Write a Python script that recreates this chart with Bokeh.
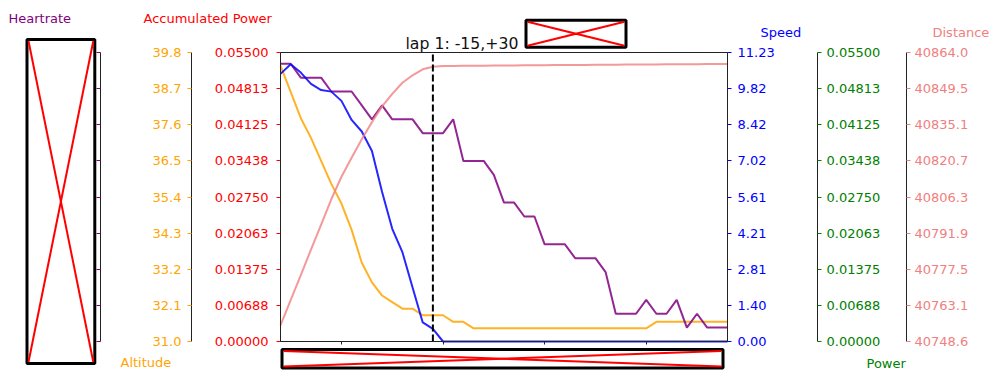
import numpy as np
from bokeh.plotting import figure
from bokeh.models import (Range1d, LinearAxis, FixedTicker, CustomJSTickFormatter,
                          Label, BoxAnnotation, Arrow)
from bokeh.embed import file_html
from bokeh.resources import INLINE

# ---------------- data ----------------
TIME = [0, 1, 2, 3, 4, 5, 6, 7, 8, 9, 10, 11, 12, 13, 14, 15, 16, 17, 18, 19, 20, 21, 22,
        23, 24, 25, 26, 27, 28, 29, 30, 31, 32, 33, 34, 35, 36, 37, 38, 39, 40, 41, 42, 43, 44]
LAP_TIME = 15
LAP_TITLE = "lap 1: -15,+30"

HEARTRATE = [160, 160, 159, 159, 159, 158, 158, 158, 157, 156, 157, 156, 156, 156, 155, 155,
             155, 156, 153, 153, 153, 152, 150, 150, 149, 149, 147, 147, 147, 146, 146, 146,
             145, 142, 142, 142, 143, 142, 142, 143, 141, 142, 141, 141, 141]
SPEED = [10.40, 10.77, 10.45, 10.01, 9.77, 9.71, 9.35, 8.61, 8.16, 7.40, 5.81, 4.38, 3.47,
         2.10, 0.74, 0.49, 0.0, 0.0, 0.0, 0.0, 0.0, 0.0, 0.0, 0.0, 0.0, 0.0, 0.0, 0.0, 0.0,
         0.0, 0.0, 0.0, 0.0, 0.0, 0.0, 0.0, 0.0, 0.0, 0.0, 0.0, 0.0, 0.0, 0.0, 0.0, 0.0]
ALTITUDE = [39.4, 38.6, 37.8, 37.2, 36.5, 35.8, 35.2, 34.4, 33.4, 32.8, 32.4, 32.2, 32.0, 32.0,
            31.8, 31.8, 31.8, 31.6, 31.6, 31.4, 31.4, 31.4, 31.4, 31.4, 31.4, 31.4, 31.4, 31.4,
            31.4, 31.4, 31.4, 31.4, 31.4, 31.4, 31.4, 31.4, 31.4, 31.6, 31.6, 31.6, 31.6, 31.6,
            31.6, 31.6, 31.6]
DISTANCE = [40755.0, 40765.1, 40775.1, 40785.3, 40795.3, 40805.4, 40814.4, 40822.0, 40829.4,
            40836.2, 40842.5, 40847.5, 40851.9, 40854.9, 40857.3, 40858.3, 40858.6, 40858.6,
            40858.7, 40858.7, 40858.7, 40858.8, 40858.8, 40858.8, 40858.9, 40858.9, 40858.9,
            40859.0, 40859.0, 40859.0, 40859.0, 40859.1, 40859.1, 40859.1, 40859.2, 40859.2,
            40859.2, 40859.2, 40859.3, 40859.3, 40859.3, 40859.3, 40859.4, 40859.4, 40859.4]

X_TICKS = [6, 16, 26, 36]
TIME_RANGE = (0, 44)
HR_RANGE = (140.0, 160.81)
ALT_RANGE = (31.0, 39.8)
ACC_RANGE = (0.0, 0.055)
SPEED_RANGE = (0.0, 11.23)
POWER_RANGE = (0.0, 0.055)
DIST_RANGE = (40748.6, 40864.0)

ALT_TICKS = ["31.0", "32.1", "33.2", "34.3", "35.4", "36.5", "37.6", "38.7", "39.8"]
ACC_TICKS = ["0.00000", "0.00688", "0.01375", "0.02063", "0.02750", "0.03438", "0.04125",
             "0.04813", "0.05500"]
SPEED_TICKS = ["0.00", "1.40", "2.81", "4.21", "5.61", "7.02", "8.42", "9.82", "11.23"]
POWER_TICKS = ["0.00000", "0.00688", "0.01375", "0.02063", "0.02750", "0.03438", "0.04125",
               "0.04813", "0.05500"]
DIST_TICKS = ["40748.6", "40763.1", "40777.5", "40791.9", "40806.3", "40820.7", "40835.1",
              "40849.5", "40864.0"]
HR_TICKS = ["", "", "", "", "", "", "", "", ""]

# ---------------- layout / styling ----------------
W, H = 990, 370
PLOT_L, PLOT_R, PLOT_T, PLOT_B = 280, 727, 52, 341   # main plot area, canvas px
FONT = "DejaVu Sans"
FS = "13px"
C_HR = "purple"
C_ALT = "orange"
C_ACC = "red"
C_SPEED = "blue"
C_POW = "green"
C_DIST = "lightcoral"
AXC = "#222222"

XK = (PLOT_R - PLOT_L) / (TIME_RANGE[1] - TIME_RANGE[0])   # px per second


def x_at(px):
    """canvas px -> time units (for axis placement)"""
    return TIME_RANGE[0] + (px - PLOT_L) / XK


def y_range_for(lohi):
    lo, hi = lohi
    per_px = (hi - lo) / (PLOT_B - PLOT_T)
    return Range1d(lo - (H - PLOT_B) * per_px, hi + PLOT_T * per_px)


def sy(py):
    return H - py


p = figure(width=W, height=H, output_backend="svg", toolbar_location=None,
           x_range=Range1d(x_at(0), x_at(W)), y_range=y_range_for(SPEED_RANGE),
           x_axis_location=None, y_axis_location=None,
           min_border_left=0, min_border_right=0, min_border_top=0, min_border_bottom=0)
p.extra_y_ranges = {
    "hr": y_range_for(HR_RANGE), "alt": y_range_for(ALT_RANGE), "acc": y_range_for(ACC_RANGE),
    "pow": y_range_for(POWER_RANGE), "dist": y_range_for(DIST_RANGE),
}
p.grid.visible = False
p.outline_line_color = None
p.background_fill_color = "white"
p.border_fill_color = "white"


def value_axis(rng, lohi, labels, color, standoff, at_px, side):
    ticks = list(np.linspace(lohi[0], lohi[1], len(labels)))
    ax = LinearAxis(
        y_range_name=rng, fixed_location=x_at(at_px), bounds=lohi,
        ticker=FixedTicker(ticks=ticks, minor_ticks=[]),
        formatter=CustomJSTickFormatter(args=dict(labels=labels), code="return labels[index];"),
        major_tick_out=4, major_tick_in=0, minor_tick_out=0, minor_tick_in=0,
        major_tick_line_color=color, axis_line_color=AXC, axis_line_width=1,
        major_label_text_color=color, major_label_text_font=FONT,
        major_label_text_font_size=FS, major_label_standoff=standoff)
    p.add_layout(ax, side)


value_axis("acc", ACC_RANGE, ACC_TICKS, C_ACC, 8, PLOT_L, "left")
value_axis("alt", ALT_RANGE, ALT_TICKS, C_ALT, 6, 191, "left")
value_axis("hr", HR_RANGE, HR_TICKS, C_HR, 0, 100, "left")
value_axis("default", SPEED_RANGE, SPEED_TICKS, C_SPEED, 6, PLOT_R, "right")
value_axis("pow", POWER_RANGE, POWER_TICKS, C_POW, 5, 817, "right")
value_axis("dist", DIST_RANGE, DIST_TICKS, C_DIST, 4, 906, "right")

# bottom time axis: ticks only
p.add_layout(LinearAxis(
    fixed_location=SPEED_RANGE[0], bounds=TIME_RANGE,
    ticker=FixedTicker(ticks=X_TICKS, minor_ticks=[]),
    formatter=CustomJSTickFormatter(code="return '';"),
    major_tick_out=3, major_tick_in=0, minor_tick_out=0, minor_tick_in=0,
    major_tick_line_color=AXC, axis_line_color=AXC, major_label_standoff=0,
    major_label_text_font_size=FS), "below")

# frame of the main plot
p.add_layout(BoxAnnotation(left=TIME_RANGE[0], right=TIME_RANGE[1],
                           bottom=SPEED_RANGE[0], top=SPEED_RANGE[1],
                           fill_alpha=0, line_color=AXC, line_alpha=1, line_width=1))

# series
p.line(TIME, ALTITUDE, y_range_name="alt", line_color=C_ALT, line_width=2, line_alpha=0.85)
p.line(TIME, HEARTRATE, y_range_name="hr", line_color=C_HR, line_width=2, line_alpha=0.85)
p.line(TIME, SPEED, line_color=C_SPEED, line_width=2, line_alpha=0.85)
p.line(TIME, DISTANCE, y_range_name="dist", line_color=C_DIST, line_width=2, line_alpha=0.8)

# lap marker
p.segment(x0=[LAP_TIME], y0=[SPEED_RANGE[0]], x1=[LAP_TIME], y1=[SPEED_RANGE[1]],
          line_color="black", line_width=2, line_dash="7 3")


# titles
def title(text, x, y, color, size=FS):
    p.add_layout(Label(x=x, y=sy(y), x_units="screen", y_units="screen", text=text,
                       text_color=color, text_font=FONT, text_font_size=size,
                       text_baseline="alphabetic", text_align="left"))


title("Heartrate", 8, 18.3, C_HR)
title("Accumulated Power", 143, 18.3, C_ACC)
title("Speed", 760, 32.3, C_SPEED)
title("Distance", 932, 32.3, C_DIST)
title("Altitude", 120, 362, C_ALT)
title("Power", 866, 363, C_POW)
title(LAP_TITLE, 405, 42.5, "#111111", size="15.7px")


# broken-image placeholders (black frame with a red cross)
def placeholder(l, t, r, b):
    p.add_layout(BoxAnnotation(left=l, right=r, top=sy(t), bottom=sy(b),
                               left_units="screen", right_units="screen",
                               top_units="screen", bottom_units="screen",
                               fill_alpha=0, line_color="black", line_alpha=1, line_width=3))
    for (x0, y0, x1, y1) in [(l + 1.5, t + 1.5, r - 1.5, b - 1.5),
                             (r - 1.5, t + 1.5, l + 1.5, b - 1.5)]:
        p.add_layout(Arrow(x_start=x0, y_start=sy(y0), x_end=x1, y_end=sy(y1),
                           start_units="screen", end_units="screen", start=None, end=None,
                           line_color="red", line_width=2))


placeholder(26.5, 39, 94.3, 363)
placeholder(525.5, 19.8, 625.5, 46.8)
placeholder(281.5, 349, 722.5, 367.5)

open("out.html", "w").write(file_html(p, INLINE))
